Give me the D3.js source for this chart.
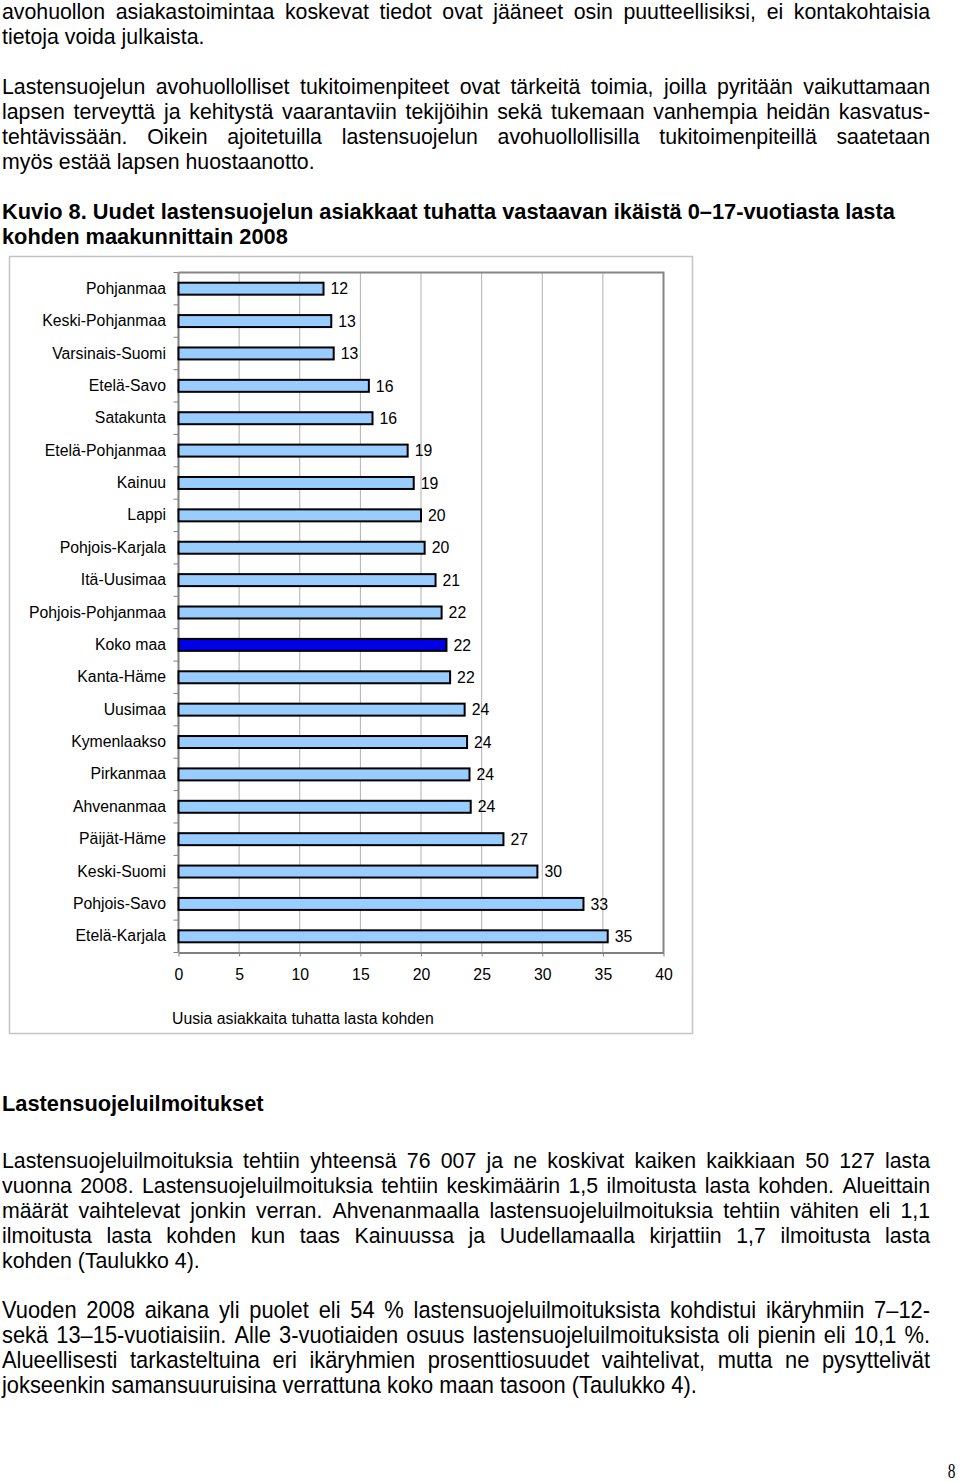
<!DOCTYPE html>
<html>
<head>
<meta charset="utf-8">
<script src="https://cdn.jsdelivr.net/npm/d3@7"></script>
<style>
  html, body { margin: 0; padding: 0; background: #fff; }
  svg { display: block; }
  .body { font-family: "Liberation Sans", Arial, sans-serif; font-size: 21.3px; fill: #000; }
  .narrowtxt { font-family: "Liberation Sans Narrow", "Liberation Sans", Arial, sans-serif; font-size: 23.5px; fill: #000; }
  .bold { font-family: "Liberation Sans", Arial, sans-serif; font-size: 21.8px; font-weight: bold; fill: #000; }
  .chart text { font-family: "Liberation Sans", Arial, sans-serif; font-size: 15.8px; fill: #000; }
  .pagenum { font-family: "Liberation Serif", "Times New Roman", serif; font-size: 22px; fill: #000; }
</style>
</head>
<body>
<script>
// ---------- data ----------
const categories = ["Pohjanmaa","Keski-Pohjanmaa","Varsinais-Suomi","Etelä-Savo","Satakunta",
  "Etelä-Pohjanmaa","Kainuu","Lappi","Pohjois-Karjala","Itä-Uusimaa","Pohjois-Pohjanmaa",
  "Koko maa","Kanta-Häme","Uusimaa","Kymenlaakso","Pirkanmaa","Ahvenanmaa","Päijät-Häme",
  "Keski-Suomi","Pohjois-Savo","Etelä-Karjala"];
const values = [11.96, 12.6, 12.8, 15.7, 16.0, 18.9, 19.4, 20.0, 20.3, 21.2, 21.7,
  22.1, 22.4, 23.6, 23.8, 24.0, 24.1, 26.8, 29.6, 33.4, 35.4];
const highlighted = ["Koko maa"];
const xTicks = [0, 5, 10, 15, 20, 25, 30, 35, 40];
const xTitle = "Uusia asiakkaita tuhatta lasta kohden";

// ---------- text ----------
const topPara1 = [
  "avohuollon asiakastoimintaa koskevat tiedot ovat jääneet osin puutteellisiksi, ei kontakohtaisia",
  "tietoja voida julkaista."];
const topPara2 = [
  "Lastensuojelun avohuollolliset tukitoimenpiteet ovat tärkeitä toimia, joilla pyritään vaikuttamaan",
  "lapsen terveyttä ja kehitystä vaarantaviin tekijöihin sekä tukemaan vanhempia heidän kasvatus-",
  "tehtävissään.  Oikein ajoitetuilla lastensuojelun avohuollollisilla tukitoimenpiteillä saatetaan",
  "myös estää lapsen huostaanotto."];
const headingLines = [
  "Kuvio 8. Uudet lastensuojelun asiakkaat tuhatta vastaavan ikäistä 0–17-vuotiasta lasta",
  "kohden maakunnittain 2008"];
const sectionTitle = "Lastensuojeluilmoitukset";
const bottomPara1 = [
  "Lastensuojeluilmoituksia tehtiin yhteensä 76 007 ja ne koskivat kaiken kaikkiaan 50 127 lasta",
  "vuonna 2008. Lastensuojeluilmoituksia tehtiin keskimäärin 1,5 ilmoitusta lasta kohden. Alueittain",
  "määrät vaihtelevat jonkin verran. Ahvenanmaalla lastensuojeluilmoituksia tehtiin vähiten eli 1,1",
  "ilmoitusta lasta kohden kun taas Kainuussa ja Uudellamaalla kirjattiin 1,7 ilmoitusta lasta",
  "kohden (Taulukko 4)."];
const bottomPara2 = [
  "Vuoden 2008 aikana yli puolet eli 54 % lastensuojeluilmoituksista kohdistui ikäryhmiin 7–12-",
  "sekä 13–15-vuotiaisiin. Alle 3-vuotiaiden osuus lastensuojeluilmoituksista oli pienin eli 10,1 %.",
  "Alueellisesti tarkasteltuina eri ikäryhmien prosenttiosuudet vaihtelivat, mutta ne pysyttelivät",
  "jokseenkin samansuuruisina verrattuna koko maan tasoon (Taulukko 4)."];
const pageNumber = "8";

// ---------- page ----------
const svg = d3.select("body").append("svg")
  .attr("width", 960).attr("height", 1482)
  .style("background", "#fff");
svg.append("rect").attr("width", 960).attr("height", 1482).attr("fill", "#fff");

function measure(parent, str, cls) {
  const t = parent.append("text").attr("class", cls).text(str);
  const w = t.node().getComputedTextLength();
  t.remove();
  return w;
}
function writeLine(parent, str, x, y, cls, width) {
  const t = parent.append("text").attr("class", cls).attr("y", y);
  if (width == null) {
    t.attr("x", x).text(str);
    return;
  }
  const words = str.split(/ +/);
  const widths = words.map(w => measure(parent, w, cls));
  const gap = (width - d3.sum(widths)) / (words.length - 1);
  let cx = x;
  words.forEach((w, i) => {
    t.append("tspan").attr("x", cx).text(w);
    cx += widths[i] + gap;
  });
}
function paragraph(parent, lines, x, y0, lh, cls, width) {
  lines.forEach((l, i) => {
    const last = i === lines.length - 1;
    writeLine(parent, l, x, y0 + i * lh, cls, last ? null : width);
  });
}

const LEFT = 2, TEXTW = 928, LH = 25;
paragraph(svg, topPara1, LEFT, 19, LH, "body", TEXTW);
paragraph(svg, topPara2, LEFT, 94, LH, "body", TEXTW);
headingLines.forEach((l, i) => writeLine(svg, l, LEFT, 219 + i * LH, "bold", null));

writeLine(svg, sectionTitle, LEFT, 1111, "bold", null);
paragraph(svg, bottomPara1, LEFT, 1168, LH, "body", TEXTW);

// narrow paragraph (condensed face)
const narrow = svg.append("g");
const lastW = measure(narrow, bottomPara2[bottomPara2.length - 1], "narrowtxt");
const kx = 695 / lastW;
narrow.attr("transform", `translate(${LEFT},0) scale(${kx},1)`);
paragraph(narrow, bottomPara2, 0, 1318, LH, "narrowtxt", TEXTW / kx);

svg.append("text").attr("class", "pagenum")
  .attr("transform", "translate(951.5,1478) scale(0.7,1)")
  .attr("text-anchor", "middle").text(pageNumber);

// ---------- chart ----------
const chart = svg.append("g").attr("class", "chart");
chart.append("rect")
  .attr("x", 9.5).attr("y", 256.5).attr("width", 683).attr("height", 777)
  .attr("fill", "#fff").attr("stroke", "#c4c4c4").attr("stroke-width", 1.5);

const x = d3.scaleLinear().domain([0, 40]).range([178.5, 663.5]);
const y = d3.scaleBand().domain(categories).range([272.5, 952.5])
  .paddingInner(0.63).paddingOuter(0.315);
const plotTop = 272.5, plotBottom = 952.5;

// gridlines
chart.append("g").selectAll("line")
  .data(xTicks.filter(t => t > 0 && t < 40))
  .join("line")
  .attr("x1", d => x(d)).attr("x2", d => x(d))
  .attr("y1", plotTop).attr("y2", plotBottom)
  .attr("stroke", "#b0b0b0").attr("stroke-width", 1);

// plot border top/right
chart.append("path")
  .attr("d", `M${x(0)},${plotTop}H${x(40)}V${plotBottom}`)
  .attr("fill", "none").attr("stroke", "#858585").attr("stroke-width", 2);

// y axis ticks at band boundaries
const step = y.step();
const yStart = y.range()[0];
chart.append("g").selectAll("line")
  .data(d3.range(categories.length + 1))
  .join("line")
  .attr("x1", x(0) - 5).attr("x2", x(0))
  .attr("y1", i => yStart + i * step).attr("y2", i => yStart + i * step)
  .attr("stroke", "#808080").attr("stroke-width", 1);

// y axis labels
const yAxis = chart.append("g").attr("transform", `translate(${x(0)},0)`)
  .call(d3.axisLeft(y).tickSize(0).tickPadding(12.5));
yAxis.select(".domain").remove();
yAxis.selectAll("text").style("font-family", "\"Liberation Sans\", Arial, sans-serif").style("font-size", "15.8px").attr("fill", "#000");

// x axis
const xAxis = chart.append("g").attr("transform", `translate(0,${plotBottom})`)
  .call(d3.axisBottom(x).tickValues(xTicks).tickSize(4).tickSizeOuter(0));
xAxis.select(".domain").attr("stroke", "#808080").attr("stroke-width", 2);
xAxis.selectAll(".tick line").attr("stroke", "#808080");
xAxis.selectAll("text").attr("y", 27.5).attr("dy", 0)
  .style("font-family", "\"Liberation Sans\", Arial, sans-serif").style("font-size", "15.8px").attr("fill", "#000");

// left axis line
chart.append("line")
  .attr("x1", x(0)).attr("x2", x(0)).attr("y1", plotTop).attr("y2", plotBottom)
  .attr("stroke", "#808080").attr("stroke-width", 2);

// bars
const data = categories.map((c, i) => ({ c, v: values[i] }));
chart.append("g").selectAll("rect")
  .data(data).join("rect")
  .attr("x", x(0)).attr("y", d => y(d.c))
  .attr("width", d => x(d.v) - x(0)).attr("height", y.bandwidth())
  .attr("fill", d => highlighted.includes(d.c) ? "#0000e6" : "#99ccff")
  .attr("stroke", "#000").attr("stroke-width", 2);

// value labels
const fmt = d3.format("d");
chart.append("g").selectAll("text")
  .data(data).join("text")
  .attr("x", d => x(d.v) + 7)
  .attr("y", d => y(d.c) + y.bandwidth() / 2)
  .attr("dy", "0.36em")
  .text(d => fmt(Math.round(d.v)));

// axis title
chart.append("text").attr("x", 172).attr("y", 1023.5).text(xTitle);
</script>
</body>
</html>
